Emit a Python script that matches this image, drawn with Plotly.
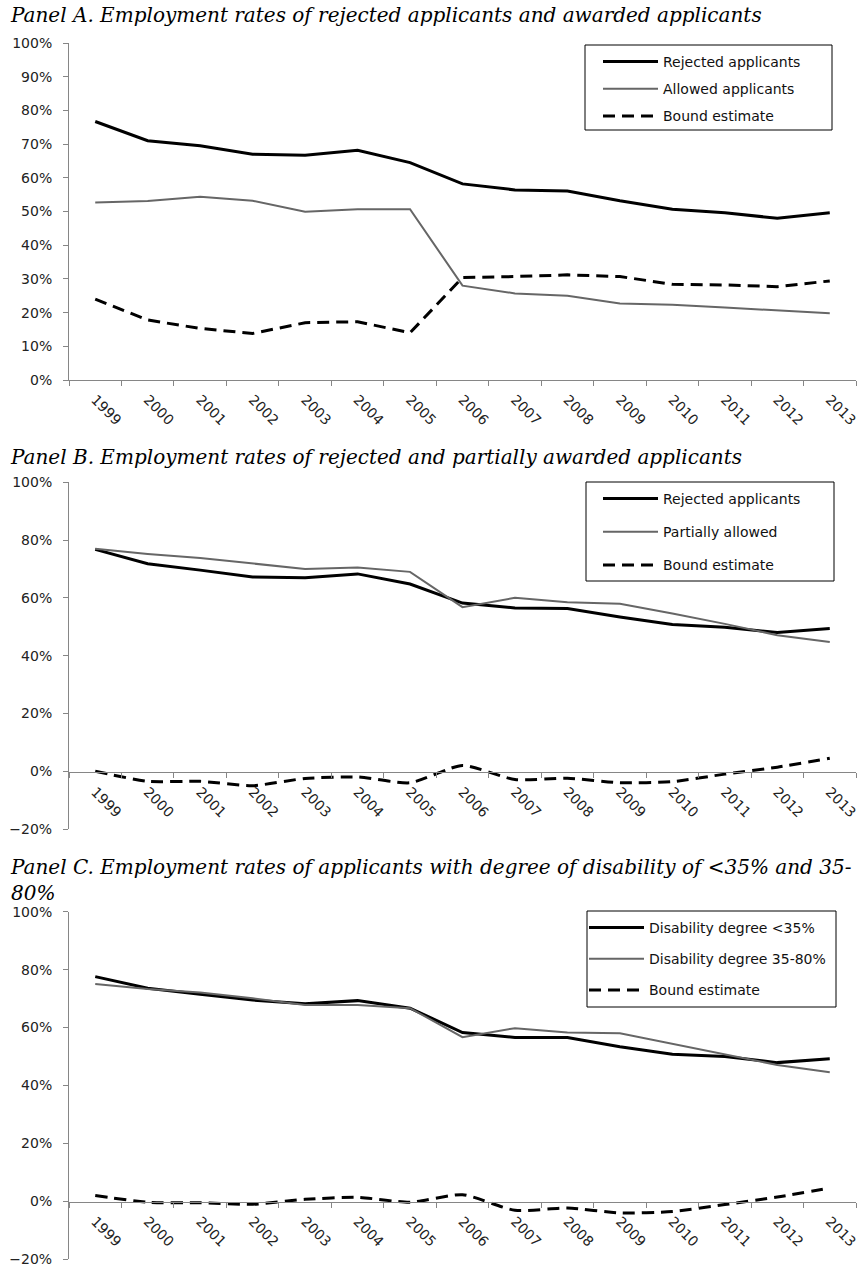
import plotly.graph_objects as go

# categories
years = ["1999", "2000", "2001", "2002", "2003", "2004", "2005", "2006",
         "2007", "2008", "2009", "2010", "2011", "2012", "2013"]

# Panel A
a_rejected = [76.7, 71.0, 69.5, 67.0, 66.7, 68.2, 64.5, 58.2, 56.4, 56.1, 53.2, 50.7, 49.6, 48.0, 49.6]
a_allowed = [52.7, 53.1, 54.4, 53.2, 49.9, 50.7, 50.7, 28.0, 25.7, 25.0, 22.7, 22.3, 21.5, 20.6, 19.8]
a_bound = [24.0, 17.8, 15.3, 13.8, 17.0, 17.3, 14.0, 30.4, 30.7, 31.2, 30.7, 28.4, 28.2, 27.7, 29.4]

# Panel B
b_rejected = [76.8, 71.8, 69.6, 67.2, 67.0, 68.3, 64.8, 58.2, 56.5, 56.3, 53.4, 50.8, 49.8, 48.0, 49.4]
b_partial = [77.0, 75.2, 73.8, 72.0, 70.0, 70.5, 69.0, 56.8, 60.0, 58.5, 58.0, 54.6, 51.0, 47.1, 44.7]
b_bound = [0.0, -3.5, -3.5, -5.0, -2.5, -2.0, -4.0, 2.0, -2.9, -2.4, -4.0, -3.6, -1.0, 1.4, 4.5]

# Panel C
c_low = [77.6, 73.6, 71.5, 69.5, 68.2, 69.3, 66.7, 58.3, 56.6, 56.6, 53.4, 50.8, 50.0, 47.9, 49.2]
c_mid = [75.0, 73.3, 72.1, 70.1, 67.8, 67.8, 66.7, 56.7, 59.8, 58.3, 58.0, 54.4, 50.6, 47.1, 44.6]
c_bound = [2.0, -0.3, -0.5, -1.0, 0.7, 1.4, -0.3, 2.3, -3.1, -2.3, -4.0, -3.5, -1.1, 1.5, 4.6]

W, H = 861, 1267


def fx(p):
    return p / W


def fy(p):
    return 1 - p / H


fig = go.Figure()

panels = [
    ("x", "y", "legend", [("Rejected applicants", a_rejected), ("Allowed applicants", a_allowed),
                          ("Bound estimate", a_bound)], False),
    ("x2", "y2", "legend2", [("Rejected applicants", b_rejected), ("Partially allowed", b_partial),
                             ("Bound estimate", b_bound)], True),
    ("x3", "y3", "legend3", [("Disability degree &lt;35%", c_low), ("Disability degree 35-80%", c_mid),
                             ("Bound estimate", c_bound)], True),
]

styles = [dict(color="#000000", width=3),
          dict(color="#666666", width=2),
          dict(color="#000000", width=3, dash="12px,7px")]

for xa, ya, leg, series, smooth_bound in panels:
    for i, (name, vals) in enumerate(series):
        line = dict(styles[i])
        if i == 2 and smooth_bound:
            line["shape"] = "spline"
            line["smoothing"] = 0.6
        fig.add_trace(go.Scatter(x=years, y=vals, name=name, mode="lines",
                                 line=line, xaxis=xa, yaxis=ya, legend=leg,
                                 legendgroup=leg + str(i)))

tickfont = dict(family="DejaVu Sans", size=14, color="#222222")
xcommon = dict(type="category", tickson="boundaries", ticks="outside", ticklen=5,
               tickcolor="#868686", showline=True, linecolor="#868686", linewidth=1,
               showgrid=False, zeroline=False, tickangle=45, tickfont=tickfont,
               ticklabelstandoff=5, range=[-0.5, 14.5], automargin=False,
               domain=[fx(69), fx(856)])
ycommon = dict(ticks="outside", ticklen=5, tickcolor="#868686", showline=True,
               linecolor="#868686", linewidth=1, showgrid=False, zeroline=False,
               ticksuffix="%", tickfont=tickfont, ticklabelstandoff=8,
               ticklabeloverflow="allow", automargin=False)

fig.update_layout(
    xaxis=dict(xcommon, anchor="y"),
    xaxis2=dict(xcommon, anchor="free", position=fy(772.3)),
    xaxis3=dict(xcommon, anchor="free", position=fy(1201.7)),
    yaxis=dict(ycommon, range=[0, 100], dtick=10, domain=[fy(380), fy(43)], anchor="x"),
    yaxis2=dict(ycommon, range=[-20, 100], dtick=20, domain=[fy(829), fy(482.3)], anchor="x2"),
    yaxis3=dict(ycommon, range=[-20, 100], dtick=20, domain=[fy(1259.3), fy(911.7)], anchor="x3"),
)

# legends drawn without border; the frame is a separate rectangle
legcommon = dict(xanchor="left", yanchor="top", borderwidth=0,
                 bgcolor="rgba(255,255,255,0)", font=dict(family="DejaVu Sans", size=14, color="#111111"),
                 traceorder="grouped", itemwidth=55)
fig.update_layout(
    legend=dict(legcommon, x=fx(598), y=fy(46), tracegroupgap=6),
    legend2=dict(legcommon, x=fx(598), y=fy(483), tracegroupgap=12),
    legend3=dict(legcommon, x=fx(584), y=fy(912), tracegroupgap=10),
)

for x0, y0, x1, y1 in [(585, 45, 832, 130), (586, 482, 834, 581), (587, 911, 836, 1007)]:
    fig.add_shape(type="rect", xref="paper", yref="paper",
                  x0=fx(x0), x1=fx(x1), y0=fy(y1), y1=fy(y0),
                  line=dict(color="#000000", width=1), fillcolor="rgba(255,255,255,0)",
                  layer="above")

titles = [
    ("Panel A. Employment rates of rejected applicants and awarded applicants", 15),
    ("Panel B. Employment rates of rejected and partially awarded applicants", 457),
    ("Panel C. Employment rates of applicants with degree of disability of &lt;35% and 35-<br>80%", 880),
]
for text, ypx in titles:
    fig.add_annotation(text="<i>" + text + "</i>", xref="paper", yref="paper",
                       x=fx(8), y=fy(ypx), xanchor="left", yanchor="middle", align="left",
                       showarrow=False, font=dict(family="DejaVu Serif", size=20, color="#000000"))

fig.update_layout(width=W, height=H, margin=dict(l=0, r=0, t=0, b=0),
                  paper_bgcolor="white", plot_bgcolor="white", showlegend=True)

fig.write_html("out.html", config={"displayModeBar": False},
               post_script="document.body.style.margin='0';")
